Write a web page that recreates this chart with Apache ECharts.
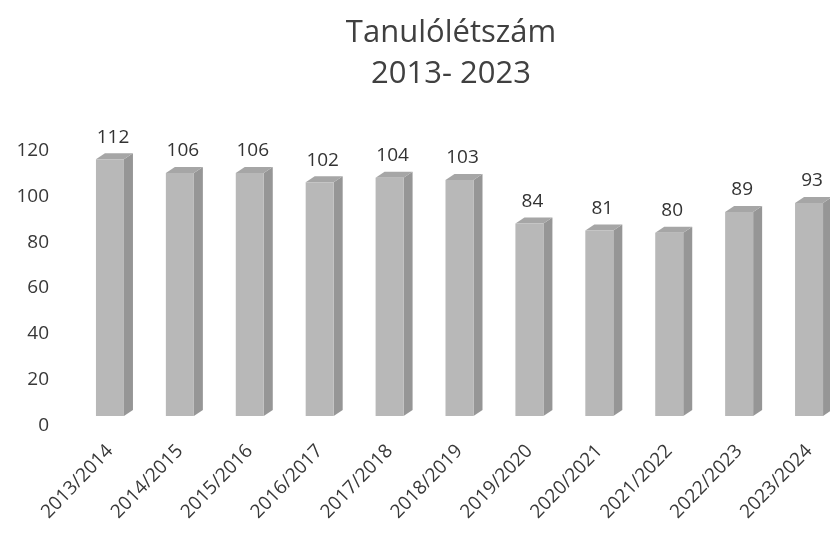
<!DOCTYPE html>
<html><head><meta charset="utf-8">
<script src="https://cdn.jsdelivr.net/npm/echarts@6/dist/echarts.min.js"></script>
<style>html,body{margin:0;padding:0;background:#fff}#c{width:830px;height:536px}</style>
</head><body><div id="c"></div>
<script>
var categories = ['2013/2014','2014/2015','2015/2016','2016/2017','2017/2018','2018/2019','2019/2020','2020/2021','2021/2022','2022/2023','2023/2024'];
var values = [112,106,106,102,104,103,84,81,80,89,93];
var titleLines = ['Tanulólétszám','2013- 2023'];

var chart = echarts.init(document.getElementById('c'));
var FONT = '"Open Sans", "Noto Sans", sans-serif';
chart.setOption({
  backgroundColor:'#fff',
  animation:false,
  title:{text:titleLines.join('\n'),left:446,top:8,textAlign:'center',
    textStyle:{fontFamily:FONT,fontSize:31,fontWeight:'normal',color:'#404040',lineHeight:41}},
  grid:{left:75,right:-14,top:141,bottom:120,containLabel:false,outerBoundsMode:'none'},
  xAxis:{type:'category',data:categories,
    axisLine:{show:false},axisTick:{show:false},
    axisLabel:{rotate:46,margin:32,fontFamily:FONT,fontSize:19,color:'#383838',interval:0}},
  yAxis:{type:'value',min:0,max:120,interval:20,
    splitLine:{show:false},axisLine:{show:false},axisTick:{show:false},
    axisLabel:{margin:26,fontFamily:FONT,fontSize:19,color:'#383838',verticalAlign:'top'}},
  series:[{
    type:'custom',
    data:values.map(function(v,i){return [i,v];}),
    encode:{x:0,y:1},
    renderItem:function(params,api){
      var idx=api.value(0);
      var v=api.value(1);
      var top=api.coord([idx,v]);
      var base=api.coord([idx,0]);
      var cx=top[0];
      var xl=cx-14, xr=cx+14, dx=9, dy=6;
      var yt=top[1], yb=base[1];
      return {type:'group',children:[
        {type:'polygon',shape:{points:[[xr,yt],[xr+dx,yt-dy],[xr+dx,yb-dy],[xr,yb]]},style:{fill:'#969696'}},
        {type:'polygon',shape:{points:[[xl,yt],[xl+dx,yt-dy],[xr+dx,yt-dy],[xr,yt]]},style:{fill:'#a6a6a6'}},
        {type:'rect',shape:{x:xl,y:yt,width:xr-xl,height:yb-yt},style:{fill:'#b8b8b8'}},
        {type:'text',style:{text:String(v),x:cx+3,y:yt-22,align:'center',verticalAlign:'middle',
          font:'19px '+FONT,fill:'#333'}}
      ]};
    }
  }]
});
</script></body></html>
